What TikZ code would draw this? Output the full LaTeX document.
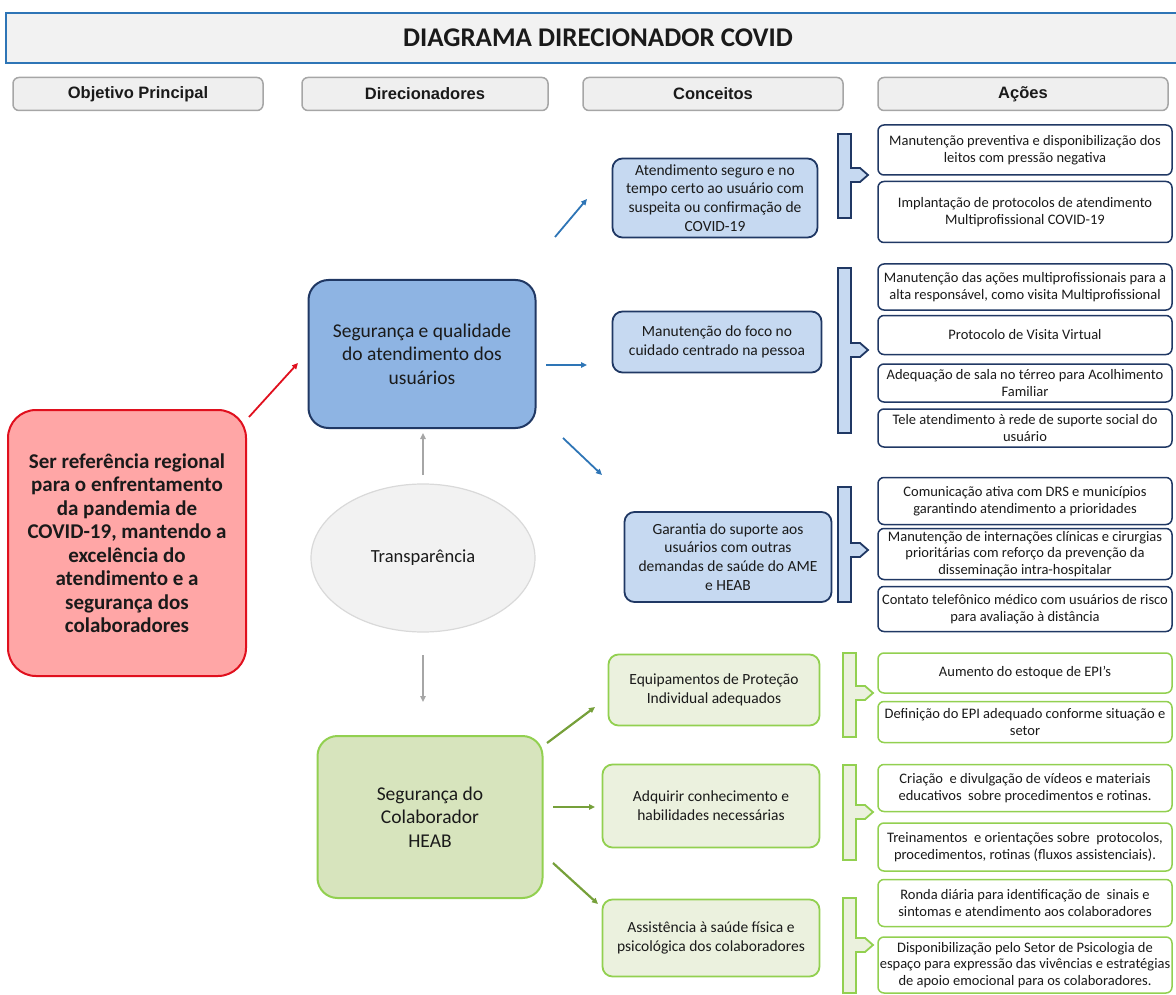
\documentclass[tikz,border=0pt]{standalone}
\usepackage{fontspec}
\setmainfont{Carlito}
\newfontfamily\headfont{Liberation Sans}
\usetikzlibrary{arrows.meta,shapes.geometric}
\definecolor{DDTitleStroke}{HTML}{2E75B6}
\definecolor{DDTitleFill}{HTML}{F2F2F2}
\definecolor{DDHeadStroke}{HTML}{A6A6A6}
\definecolor{DDHeadFill}{HTML}{EFEFEF}
\definecolor{DDGoalStroke}{HTML}{E0101E}
\definecolor{DDGoalFill}{HTML}{FFA6A6}
\definecolor{DDBlueStroke}{HTML}{203864}
\definecolor{DDBlueFill}{HTML}{8EB4E3}
\definecolor{DDBlueLight}{HTML}{C6D9F1}
\definecolor{DDBlueArrow}{HTML}{2E75B6}
\definecolor{DDGreenStroke}{HTML}{92D050}
\definecolor{DDGreenFill}{HTML}{D7E4BD}
\definecolor{DDGreenLight}{HTML}{EBF1DE}
\definecolor{DDGreenArrow}{HTML}{76A03A}
\definecolor{DDGrayArrow}{HTML}{A6A6A6}
\definecolor{DDOvalFill}{HTML}{F2F2F2}
\definecolor{DDOvalStroke}{HTML}{D9D9D9}
\definecolor{DDText}{HTML}{1A1A1A}

\begin{document}
\begin{tikzpicture}[x=1pt,y=-1pt,text=DDText,
  ddtitle/.style={draw=DDTitleStroke,fill=DDTitleFill,line width=2pt,minimum width=1184pt,minimum height=50pt,inner sep=0pt,font=\fontsize{27}{31}\selectfont\bfseries},
  ddhead/.style={draw=DDHeadStroke,fill=DDHeadFill,rounded corners=6pt,line width=1.5pt,minimum height=33pt,inner sep=0pt,font=\headfont\fontsize{16.5}{19}\selectfont\bfseries},
  ddgoal/.style={draw=DDGoalStroke,fill=DDGoalFill,rounded corners=28pt,line width=2pt,align=center,inner sep=0pt,font=\fontsize{21}{23.5}\selectfont\bfseries},
  dddriver/.style={rounded corners=20pt,line width=2pt,align=center,inner sep=0pt,font=\fontsize{19.5}{23.5}\selectfont},
  ddoval/.style={ellipse,draw=DDOvalStroke,fill=DDOvalFill,line width=1.2pt,inner sep=0pt,font=\fontsize{18.5}{22}\selectfont},
  ddconcept/.style={rounded corners=10pt,line width=1.8pt,align=center,inner sep=0pt,font=\fontsize{15.5}{18.7}\selectfont},
  ddaction/.style={fill=white,rounded corners=6pt,line width=1.5pt,align=center,inner sep=0pt,minimum width=294pt,font=\fontsize{14.5}{16.8}\selectfont},
  ddbracket/.style={line width=1.8pt,line join=miter},
  ddarrow/.style={-{Triangle[length=6pt,width=5.5pt]},line width=1.8pt}]
  \useasboundingbox (0,0) rectangle (1176,995);

  % title and column heads
  \node[ddtitle] (title) at (598,38) {DIAGRAMA DIRECIONADOR COVID};
  \node[ddhead,minimum width=250pt] (hObj) at (138,94) {Objetivo Principal};
  \node[ddhead,minimum width=246pt] (hDir) at (425,94) {Direcionadores};
  \node[ddhead,minimum width=260pt] (hCon) at (713,94) {Conceitos};
  \node[ddhead,minimum width=290pt] (hAco) at (1023,94) {Ações};

  % objetivo, direcionadores
  \node[ddgoal,minimum width=238pt,minimum height=266pt] (goal) at (127,543) {Ser referência regional\\para o enfrentamento\\da pandemia de\\COVID-19, mantendo a\\excelência do\\atendimento e a\\segurança dos\\colaboradores};
  \node[dddriver,draw=DDBlueStroke,fill=DDBlueFill,minimum width=227pt,minimum height=148pt] (drvUser) at (422,354) {Segurança e qualidade\\do atendimento dos\\usuários};
  \node[ddoval,minimum width=224pt,minimum height=148pt] (transp) at (423,558) {Transparência};
  \node[dddriver,draw=DDGreenStroke,fill=DDGreenFill,minimum width=225pt,minimum height=162pt] (drvStaff) at (430,817) {Segurança do\\Colaborador\\HEAB};

  % conceitos
  \node[ddconcept,draw=DDBlueStroke,fill=DDBlueLight,minimum width=205pt,minimum height=79pt] (cSafe) at (715,198) {Atendimento seguro e no\\tempo certo ao usuário com\\suspeita ou confirmação de\\COVID-19};
  \node[ddconcept,draw=DDBlueStroke,fill=DDBlueLight,minimum width=209pt,minimum height=61pt] (cFocus) at (717,342) {Manutenção do foco no\\cuidado centrado na pessoa};
  \node[ddconcept,draw=DDBlueStroke,fill=DDBlueLight,minimum width=207pt,minimum height=90pt] (cSupport) at (728,557) {Garantia do suporte aos\\usuários com outras\\demandas de saúde do AME\\e HEAB};
  \node[ddconcept,draw=DDGreenStroke,fill=DDGreenLight,minimum width=211pt,minimum height=71pt] (cEpi) at (714,690) {Equipamentos de Proteção\\Individual adequados};
  \node[ddconcept,draw=DDGreenStroke,fill=DDGreenLight,minimum width=217pt,minimum height=83pt] (cSkill) at (711,806) {Adquirir conhecimento e\\habilidades necessárias};
  \node[ddconcept,draw=DDGreenStroke,fill=DDGreenLight,minimum width=217pt,minimum height=77pt] (cHealth) at (711,938) {Assistência à saúde física e\\psicológica dos colaboradores};

  % acoes
  \node[ddaction,draw=DDBlueStroke,minimum height=50pt] (aBeds) at (1025,150) {Manutenção preventiva e disponibilização dos\\leitos com pressão negativa};
  \node[ddaction,draw=DDBlueStroke,minimum height=61pt] (aProt) at (1025,212) {Implantação de protocolos de atendimento\\Multiprofissional COVID-19};
  \node[ddaction,draw=DDBlueStroke,minimum height=46pt] (aMulti) at (1025,287) {Manutenção das ações multiprofissionais para a\\alta responsável, como visita Multiprofissional};
  \node[ddaction,draw=DDBlueStroke,minimum height=39pt] (aVisit) at (1025,335) {Protocolo de Visita Virtual};
  \node[ddaction,draw=DDBlueStroke,minimum height=38pt] (aRoom) at (1025,383) {Adequação de sala no térreo para Acolhimento\\Familiar};
  \node[ddaction,draw=DDBlueStroke,minimum height=38pt] (aTele) at (1025,428) {Tele atendimento à rede de suporte social do\\usuário};
  \node[ddaction,draw=DDBlueStroke,minimum height=47pt] (aDrs) at (1025,501) {Comunicação ativa com DRS e municípios\\garantindo atendimento a prioridades};
  \node[ddaction,draw=DDBlueStroke,minimum height=51pt] (aSurg) at (1025,554) {Manutenção de internações clínicas e cirurgias\\prioritárias com reforço da prevenção da\\disseminação intra-hospitalar};
  \node[ddaction,draw=DDBlueStroke,minimum height=45pt] (aPhone) at (1025,609) {Contato telefônico médico com usuários de risco\\para avaliação à distância};
  \node[ddaction,draw=DDGreenStroke,minimum height=40pt] (aStock) at (1025,673) {Aumento do estoque de EPI's};
  \node[ddaction,draw=DDGreenStroke,minimum height=41pt] (aDef) at (1025,722) {Definição do EPI adequado conforme situação e\\setor};
  \node[ddaction,draw=DDGreenStroke,minimum height=47pt] (aVideo) at (1025,788) {Criação\ \ e divulgação de vídeos e materiais\\educativos\ \ sobre procedimentos e rotinas.};
  \node[ddaction,draw=DDGreenStroke,minimum height=48pt] (aTrain) at (1025,847) {Treinamentos\ \ e orientações sobre\ \ protocolos,\\procedimentos, rotinas (fluxos assistenciais).};
  \node[ddaction,draw=DDGreenStroke,minimum height=47pt] (aRound) at (1025,903) {Ronda diária para identificação de\ \ sinais e\\sintomas e atendimento aos colaboradores};
  \node[ddaction,draw=DDGreenStroke,minimum height=56pt] (aPsy) at (1025,965) {Disponibilização pelo Setor de Psicologia de\\espaço para expressão das vivências e estratégias\\de apoio emocional para os colaboradores.};

  % chaves
  \foreach \ya/\yb/\ym in {134/218/175, 268/433/350, 487/602/550}
    \draw[ddbracket,draw=DDBlueStroke,fill=DDBlueLight] (838,\ya) -- (851,\ya) -- (851,{\ym-7}) -- (860,{\ym-7}) -- (868,\ym) -- (860,{\ym+7}) -- (851,{\ym+7}) -- (851,\yb) -- (838,\yb) -- cycle;
  \foreach \ya/\yb/\ym in {653/737/693, 765/860/812, 898/993/945}
    \draw[ddbracket,draw=DDGreenStroke,fill=DDGreenLight] (843,\ya) -- (856,\ya) -- (856,{\ym-7}) -- (865,{\ym-7}) -- (873,\ym) -- (865,{\ym+7}) -- (856,{\ym+7}) -- (856,\yb) -- (843,\yb) -- cycle;

  % setas
  \coordinate (rS) at (249,417);
  \coordinate (rE) at (298,363);
  \coordinate (gUpS) at (423,475);
  \coordinate (gUpE) at (423,433);
  \coordinate (gDnS) at (423,655);
  \coordinate (gDnE) at (423,702);
  \coordinate (b1S) at (555,237);
  \coordinate (b1E) at (587,199);
  \coordinate (b2S) at (546,365);
  \coordinate (b2E) at (587,365);
  \coordinate (b3S) at (563,438);
  \coordinate (b3E) at (602,475);
  \coordinate (v1S) at (547,743);
  \coordinate (v1E) at (595,707);
  \coordinate (v2S) at (553,807);
  \coordinate (v2E) at (595,807);
  \coordinate (v3S) at (553,863);
  \coordinate (v3E) at (598,904);
  \draw[ddarrow,DDGoalStroke] (rS) -- (rE);
  \draw[ddarrow,DDGrayArrow] (gUpS) -- (gUpE);
  \draw[ddarrow,DDGrayArrow] (gDnS) -- (gDnE);
  \draw[ddarrow,DDBlueArrow] (b1S) -- (b1E);
  \draw[ddarrow,DDBlueArrow] (b2S) -- (b2E);
  \draw[ddarrow,DDBlueArrow] (b3S) -- (b3E);
  \draw[ddarrow,DDGreenArrow,line width=2.2pt] (v1S) -- (v1E);
  \draw[ddarrow,DDGreenArrow,line width=2.2pt] (v2S) -- (v2E);
  \draw[ddarrow,DDGreenArrow,line width=2.2pt] (v3S) -- (v3E);
\end{tikzpicture}
\end{document}
